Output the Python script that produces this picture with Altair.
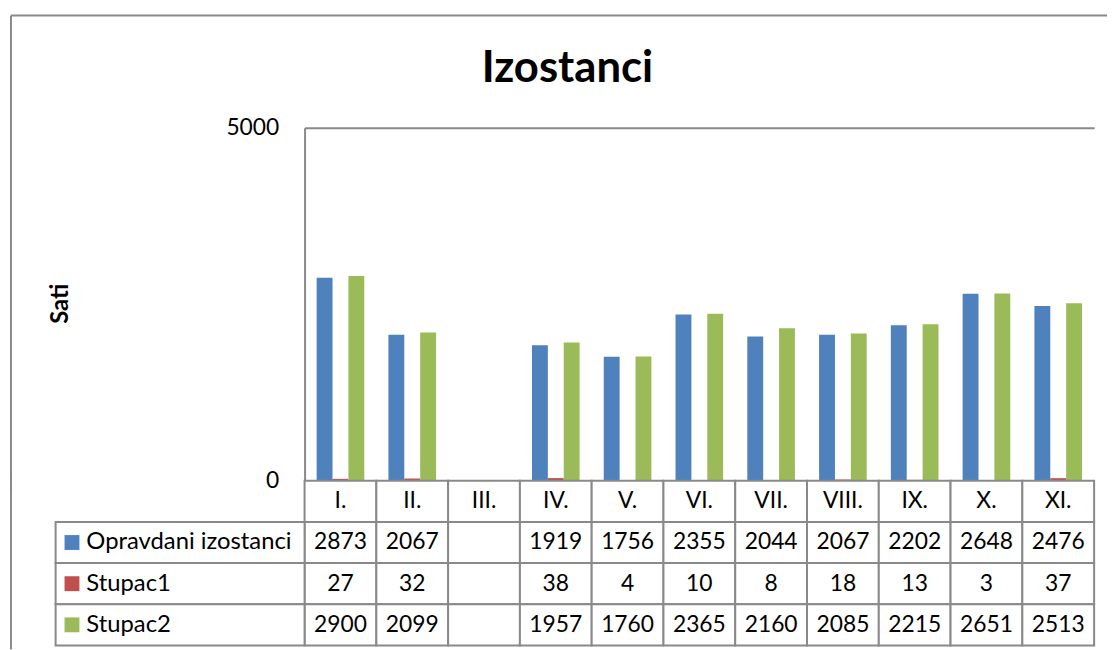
import altair as alt
import pandas as pd

categories = ["I.", "II.", "III.", "IV.", "V.", "VI.", "VII.", "VIII.", "IX.", "X.", "XI."]
series_names = ["Opravdani izostanci", "Stupac1", "Stupac2"]
opravdani = [2873, 2067, None, 1919, 1756, 2355, 2044, 2067, 2202, 2648, 2476]
stupac1 = [27, 32, None, 38, 4, 10, 8, 18, 13, 3, 37]
stupac2 = [2900, 2099, None, 1957, 1760, 2365, 2160, 2085, 2215, 2651, 2513]
colors = ["#4F81BD", "#C0504D", "#9BBB59"]
y_ticks = [0, 5000]
title_text = "Izostanci"
y_title = "Sati"

FONT = "Lato"
GRAY = "#898989"
W, H = 796, 356
TH = 166

rows = []
for name, vals in zip(series_names, [opravdani, stupac1, stupac2]):
    for c, v in zip(categories, vals):
        rows.append({"cat": c, "row": name, "value": v,
                     "label": "" if v is None else str(v)})
df = pd.DataFrame(rows)
bar_df = df.dropna(subset=["value"])

hdr_df = pd.DataFrame({"cat": categories, "row": ["hdr"] * len(categories),
                       "label": categories})
table_df = pd.concat([hdr_df, df[["cat", "row", "label"]]], ignore_index=True)
legend_df = pd.DataFrame({"row": series_names})
one = pd.DataFrame({"k": [0]})

x_scale = alt.Scale(domain=categories, paddingInner=0, paddingOuter=0)
color_scale = alt.Scale(domain=series_names, range=colors)
row_scale = alt.Scale(domain=["hdr"] + series_names, paddingInner=0, paddingOuter=0)

bars = alt.Chart(bar_df).mark_bar().encode(
    x=alt.X("cat:N", scale=x_scale, axis=None),
    xOffset=alt.XOffset("row:N", scale=alt.Scale(domain=series_names,
                                                 paddingInner=0, paddingOuter=0.76)),
    y=alt.Y("value:Q", scale=alt.Scale(domain=[0, 5000]),
            axis=alt.Axis(values=y_ticks, format="d", grid=True, gridColor=GRAY, gridWidth=2,
                          domainColor=GRAY, domainWidth=2, ticks=False,
                          labelFont=FONT, labelFontSize=23, labelPadding=26,
                          labelColor="black", title=y_title, titleFont=FONT,
                          titleFontSize=24, titleFontWeight="bold", titleColor="black",
                          titleX=-246, titleY=177, titleAngle=-90,
                          titleAlign="center", titleBaseline="middle")),
    color=alt.Color("row:N", scale=color_scale, legend=None),
)

border_left_top = alt.Chart(one).mark_rule(color=GRAY, strokeWidth=2).encode(
    x=alt.value(-296), y=alt.value(-113), y2=alt.value(H + 12))
border_top = alt.Chart(one).mark_rule(color=GRAY, strokeWidth=2).encode(
    x=alt.value(-296), x2=alt.value(809), y=alt.value(-113))
title_mark = alt.Chart(pd.DataFrame({"t": [title_text]})).mark_text(
    font=FONT, fontSize=44, fontWeight="bold", color="black",
    align="center", baseline="middle").encode(
    x=alt.value(265), y=alt.value(-59), text="t:N")

top = alt.layer(border_left_top, border_top, bars, title_mark).properties(
    width=W, height=H)

cells = alt.Chart(table_df).mark_rect(fill="white", stroke=GRAY, strokeWidth=2).encode(
    x=alt.X("cat:N", scale=x_scale, axis=None),
    y=alt.Y("row:N", scale=row_scale, axis=None),
)
cell_text = alt.Chart(table_df).mark_text(font=FONT, fontSize=23, color="black").encode(
    x=alt.X("cat:N", scale=x_scale, axis=None),
    y=alt.Y("row:N", scale=row_scale, axis=None),
    text="label:N",
)
leg_cells = alt.Chart(legend_df).mark_rect(fill="white", stroke=GRAY, strokeWidth=2).encode(
    x=alt.value(-251), x2=alt.value(0),
    y=alt.Y("row:N", scale=row_scale, axis=None),
)
leg_sq = alt.Chart(legend_df).mark_square(size=225, opacity=1).encode(
    x=alt.value(-234.5),
    y=alt.Y("row:N", scale=row_scale, axis=None),
    color=alt.Color("row:N", scale=color_scale, legend=None),
)
leg_text = alt.Chart(legend_df).mark_text(font=FONT, fontSize=24, color="black",
                                          align="left").encode(
    x=alt.value(-220),
    y=alt.Y("row:N", scale=row_scale, axis=None),
    text="row:N",
)
border_left_bottom = alt.Chart(one).mark_rule(color=GRAY, strokeWidth=2).encode(
    x=alt.value(-296), y=alt.value(-4), y2=alt.value(TH + 4))

bottom = alt.layer(border_left_bottom, cells, cell_text, leg_cells, leg_sq, leg_text).properties(
    width=W, height=TH)

chart = alt.vconcat(top, bottom, spacing=0, bounds="flush").properties(
    padding={"left": 2, "top": 4, "right": 0, "bottom": 0}
).configure_view(strokeWidth=0)

chart.save("out.html", embed_options={"renderer": "svg", "actions": False})
